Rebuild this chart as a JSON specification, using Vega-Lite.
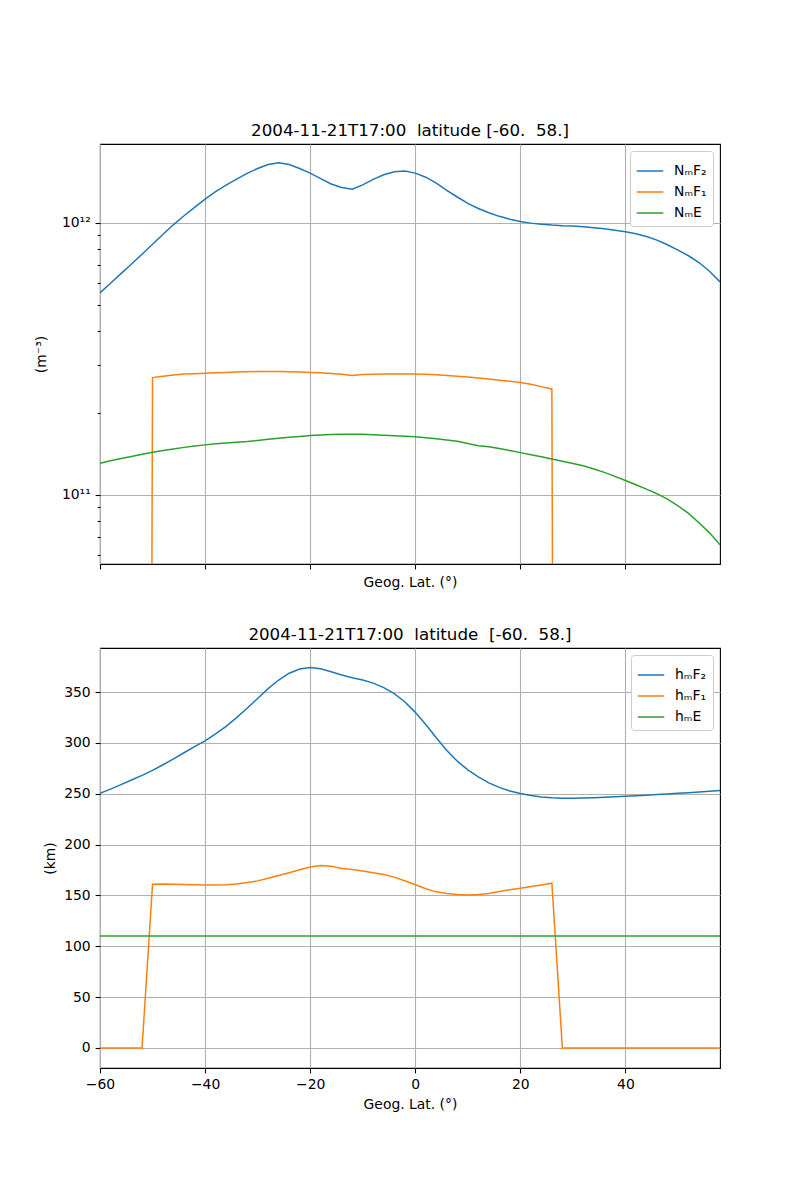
{
  "$schema": "https://vega.github.io/schema/vega-lite/v6.json",
  "padding": {"left": 33, "top": 122, "right": 5, "bottom": 5},
  "spacing": 36,
  "datasets": {
    "N": [
      {"lat": -60, "NmF2": 5.53e11, "NmF1": 1, "NmE": 1.308e11},
      {"lat": -58, "NmF2": 6.00e11, "NmF1": 1, "NmE": 1.335e11},
      {"lat": -56, "NmF2": 6.51e11, "NmF1": 1, "NmE": 1.36e11},
      {"lat": -54, "NmF2": 7.06e11, "NmF1": 1, "NmE": 1.385e11},
      {"lat": -52, "NmF2": 7.67e11, "NmF1": 1, "NmE": 1.41e11},
      {"lat": -50, "NmF2": 8.34e11, "NmF1": 2.70e11, "NmE": 1.435e11},
      {"lat": -48, "NmF2": 9.08e11, "NmF1": 2.73e11, "NmE": 1.455e11},
      {"lat": -46, "NmF2": 9.86e11, "NmF1": 2.76e11, "NmE": 1.475e11},
      {"lat": -44, "NmF2": 1.062e12, "NmF1": 2.78e11, "NmE": 1.495e11},
      {"lat": -42, "NmF2": 1.140e12, "NmF1": 2.79e11, "NmE": 1.512e11},
      {"lat": -40, "NmF2": 1.222e12, "NmF1": 2.80e11, "NmE": 1.527e11},
      {"lat": -38, "NmF2": 1.303e12, "NmF1": 2.81e11, "NmE": 1.54e11},
      {"lat": -36, "NmF2": 1.377e12, "NmF1": 2.82e11, "NmE": 1.55e11},
      {"lat": -34, "NmF2": 1.449e12, "NmF1": 2.83e11, "NmE": 1.56e11},
      {"lat": -32, "NmF2": 1.521e12, "NmF1": 2.835e11, "NmE": 1.57e11},
      {"lat": -30, "NmF2": 1.585e12, "NmF1": 2.84e11, "NmE": 1.585e11},
      {"lat": -28, "NmF2": 1.640e12, "NmF1": 2.84e11, "NmE": 1.60e11},
      {"lat": -26, "NmF2": 1.665e12, "NmF1": 2.84e11, "NmE": 1.615e11},
      {"lat": -24, "NmF2": 1.640e12, "NmF1": 2.835e11, "NmE": 1.628e11},
      {"lat": -22, "NmF2": 1.585e12, "NmF1": 2.83e11, "NmE": 1.64e11},
      {"lat": -20, "NmF2": 1.524e12, "NmF1": 2.82e11, "NmE": 1.652e11},
      {"lat": -18, "NmF2": 1.455e12, "NmF1": 2.81e11, "NmE": 1.66e11},
      {"lat": -16, "NmF2": 1.390e12, "NmF1": 2.795e11, "NmE": 1.666e11},
      {"lat": -14, "NmF2": 1.349e12, "NmF1": 2.775e11, "NmE": 1.67e11},
      {"lat": -12, "NmF2": 1.330e12, "NmF1": 2.746e11, "NmE": 1.672e11},
      {"lat": -10, "NmF2": 1.380e12, "NmF1": 2.77e11, "NmE": 1.67e11},
      {"lat": -8, "NmF2": 1.445e12, "NmF1": 2.775e11, "NmE": 1.665e11},
      {"lat": -6, "NmF2": 1.503e12, "NmF1": 2.78e11, "NmE": 1.658e11},
      {"lat": -4, "NmF2": 1.542e12, "NmF1": 2.785e11, "NmE": 1.65e11},
      {"lat": -2, "NmF2": 1.552e12, "NmF1": 2.785e11, "NmE": 1.642e11},
      {"lat": 0, "NmF2": 1.524e12, "NmF1": 2.78e11, "NmE": 1.634e11},
      {"lat": 2, "NmF2": 1.472e12, "NmF1": 2.775e11, "NmE": 1.622e11},
      {"lat": 4, "NmF2": 1.400e12, "NmF1": 2.765e11, "NmE": 1.608e11},
      {"lat": 6, "NmF2": 1.318e12, "NmF1": 2.75e11, "NmE": 1.592e11},
      {"lat": 8, "NmF2": 1.245e12, "NmF1": 2.73e11, "NmE": 1.575e11},
      {"lat": 10, "NmF2": 1.180e12, "NmF1": 2.71e11, "NmE": 1.545e11},
      {"lat": 12, "NmF2": 1.130e12, "NmF1": 2.69e11, "NmE": 1.515e11},
      {"lat": 14, "NmF2": 1.090e12, "NmF1": 2.665e11, "NmE": 1.503e11},
      {"lat": 16, "NmF2": 1.057e12, "NmF1": 2.64e11, "NmE": 1.48e11},
      {"lat": 18, "NmF2": 1.031e12, "NmF1": 2.615e11, "NmE": 1.455e11},
      {"lat": 20, "NmF2": 1.012e12, "NmF1": 2.59e11, "NmE": 1.43e11},
      {"lat": 22, "NmF2": 9.98e11, "NmF1": 2.55e11, "NmE": 1.405e11},
      {"lat": 24, "NmF2": 9.89e11, "NmF1": 2.50e11, "NmE": 1.38e11},
      {"lat": 26, "NmF2": 9.82e11, "NmF1": 2.447e11, "NmE": 1.356e11},
      {"lat": 28, "NmF2": 9.77e11, "NmF1": 1, "NmE": 1.33e11},
      {"lat": 30, "NmF2": 9.74e11, "NmF1": 1, "NmE": 1.305e11},
      {"lat": 32, "NmF2": 9.68e11, "NmF1": 1, "NmE": 1.28e11},
      {"lat": 34, "NmF2": 9.60e11, "NmF1": 1, "NmE": 1.245e11},
      {"lat": 36, "NmF2": 9.51e11, "NmF1": 1, "NmE": 1.21e11},
      {"lat": 38, "NmF2": 9.40e11, "NmF1": 1, "NmE": 1.17e11},
      {"lat": 40, "NmF2": 9.28e11, "NmF1": 1, "NmE": 1.129e11},
      {"lat": 42, "NmF2": 9.12e11, "NmF1": 1, "NmE": 1.09e11},
      {"lat": 44, "NmF2": 8.91e11, "NmF1": 1, "NmE": 1.05e11},
      {"lat": 46, "NmF2": 8.64e11, "NmF1": 1, "NmE": 1.01e11},
      {"lat": 48, "NmF2": 8.31e11, "NmF1": 1, "NmE": 9.65e10},
      {"lat": 50, "NmF2": 7.94e11, "NmF1": 1, "NmE": 9.12e10},
      {"lat": 52, "NmF2": 7.57e11, "NmF1": 1, "NmE": 8.55e10},
      {"lat": 54, "NmF2": 7.15e11, "NmF1": 1, "NmE": 7.9e10},
      {"lat": 56, "NmF2": 6.64e11, "NmF1": 1, "NmE": 7.25e10},
      {"lat": 58, "NmF2": 6.07e11, "NmF1": 1, "NmE": 6.55e10}
    ],
    "H": [
      {"lat": -60, "hmF2": 250.5, "hmF1": 0, "hmE": 110},
      {"lat": -58, "hmF2": 254.5, "hmF1": 0, "hmE": 110},
      {"lat": -56, "hmF2": 259, "hmF1": 0, "hmE": 110},
      {"lat": -54, "hmF2": 263.5, "hmF1": 0, "hmE": 110},
      {"lat": -52, "hmF2": 268, "hmF1": 0, "hmE": 110},
      {"lat": -50, "hmF2": 273, "hmF1": 161, "hmE": 110},
      {"lat": -48, "hmF2": 278.5, "hmF1": 161.2, "hmE": 110},
      {"lat": -46, "hmF2": 284.3, "hmF1": 161, "hmE": 110},
      {"lat": -44, "hmF2": 290.3, "hmF1": 160.7, "hmE": 110},
      {"lat": -42, "hmF2": 296.3, "hmF1": 160.5, "hmE": 110},
      {"lat": -40, "hmF2": 302, "hmF1": 160.3, "hmE": 110},
      {"lat": -38, "hmF2": 308.8, "hmF1": 160.3, "hmE": 110},
      {"lat": -36, "hmF2": 316.3, "hmF1": 160.6, "hmE": 110},
      {"lat": -34, "hmF2": 324.8, "hmF1": 161.3, "hmE": 110},
      {"lat": -32, "hmF2": 334, "hmF1": 162.6, "hmE": 110},
      {"lat": -30, "hmF2": 343.7, "hmF1": 164.3, "hmE": 110},
      {"lat": -28, "hmF2": 353.3, "hmF1": 166.8, "hmE": 110},
      {"lat": -26, "hmF2": 361.8, "hmF1": 169.5, "hmE": 110},
      {"lat": -24, "hmF2": 368.5, "hmF1": 172.3, "hmE": 110},
      {"lat": -22, "hmF2": 372.6, "hmF1": 175.2, "hmE": 110},
      {"lat": -20, "hmF2": 374, "hmF1": 178, "hmE": 110},
      {"lat": -18, "hmF2": 372.8, "hmF1": 179.5, "hmE": 110},
      {"lat": -16, "hmF2": 370, "hmF1": 178.8, "hmE": 110},
      {"lat": -14, "hmF2": 366.7, "hmF1": 176.5, "hmE": 110},
      {"lat": -12, "hmF2": 364, "hmF1": 175.5, "hmE": 110},
      {"lat": -10, "hmF2": 361.8, "hmF1": 174, "hmE": 110},
      {"lat": -8, "hmF2": 358.8, "hmF1": 172.3, "hmE": 110},
      {"lat": -6, "hmF2": 354.3, "hmF1": 170.5, "hmE": 110},
      {"lat": -4, "hmF2": 348.5, "hmF1": 168, "hmE": 110},
      {"lat": -2, "hmF2": 340.5, "hmF1": 164.5, "hmE": 110},
      {"lat": 0, "hmF2": 330, "hmF1": 160.5, "hmE": 110},
      {"lat": 2, "hmF2": 318, "hmF1": 156.5, "hmE": 110},
      {"lat": 4, "hmF2": 305, "hmF1": 153.5, "hmE": 110},
      {"lat": 6, "hmF2": 292.5, "hmF1": 151.8, "hmE": 110},
      {"lat": 8, "hmF2": 282, "hmF1": 150.8, "hmE": 110},
      {"lat": 10, "hmF2": 273.5, "hmF1": 150.5, "hmE": 110},
      {"lat": 12, "hmF2": 266.5, "hmF1": 150.8, "hmE": 110},
      {"lat": 14, "hmF2": 260.7, "hmF1": 152, "hmE": 110},
      {"lat": 16, "hmF2": 256.2, "hmF1": 153.8, "hmE": 110},
      {"lat": 18, "hmF2": 252.7, "hmF1": 155.5, "hmE": 110},
      {"lat": 20, "hmF2": 250.2, "hmF1": 157, "hmE": 110},
      {"lat": 22, "hmF2": 248.3, "hmF1": 158.7, "hmE": 110},
      {"lat": 24, "hmF2": 246.9, "hmF1": 160.3, "hmE": 110},
      {"lat": 26, "hmF2": 246, "hmF1": 162, "hmE": 110},
      {"lat": 28, "hmF2": 245.6, "hmF1": 0, "hmE": 110},
      {"lat": 30, "hmF2": 245.5, "hmF1": 0, "hmE": 110},
      {"lat": 32, "hmF2": 245.7, "hmF1": 0, "hmE": 110},
      {"lat": 34, "hmF2": 246.1, "hmF1": 0, "hmE": 110},
      {"lat": 36, "hmF2": 246.6, "hmF1": 0, "hmE": 110},
      {"lat": 38, "hmF2": 247.1, "hmF1": 0, "hmE": 110},
      {"lat": 40, "hmF2": 247.6, "hmF1": 0, "hmE": 110},
      {"lat": 42, "hmF2": 248.1, "hmF1": 0, "hmE": 110},
      {"lat": 44, "hmF2": 248.6, "hmF1": 0, "hmE": 110},
      {"lat": 46, "hmF2": 249.2, "hmF1": 0, "hmE": 110},
      {"lat": 48, "hmF2": 249.8, "hmF1": 0, "hmE": 110},
      {"lat": 50, "hmF2": 250.4, "hmF1": 0, "hmE": 110},
      {"lat": 52, "hmF2": 251, "hmF1": 0, "hmE": 110},
      {"lat": 54, "hmF2": 251.7, "hmF1": 0, "hmE": 110},
      {"lat": 56, "hmF2": 252.4, "hmF1": 0, "hmE": 110},
      {"lat": 58, "hmF2": 253.2, "hmF1": 0, "hmE": 110}
    ]
  },
  "resolve": {"scale": {"color": "independent"}, "legend": {"color": "independent"}},
  "vconcat": [
    {
      "title": {"text": "2004-11-21T17:00\u00a0\u00a0latitude [-60.\u00a0\u00a058.]"},
      "width": 620,
      "height": 420,
      "data": {"name": "N"},
      "transform": [{"fold": ["NmF2", "NmF1", "NmE"], "as": ["series", "value"]}],
      "mark": {"type": "line", "clip": true, "strokeWidth": 1.5},
      "encoding": {
        "x": {
          "field": "lat", "type": "quantitative",
          "scale": {"domain": [-60, 58], "nice": false, "zero": false},
          "axis": {"values": [-60, -40, -20, 0, 20, 40], "labels": false, "title": "Geog. Lat. (°)"}
        },
        "y": {
          "field": "value", "type": "quantitative",
          "scale": {"type": "log", "domain": [5.57e10, 1.95e12], "nice": false},
          "axis": {
            "values": [6e10, 7e10, 8e10, 9e10, 1e11, 2e11, 3e11, 4e11, 5e11, 6e11, 7e11, 8e11, 9e11, 1e12],
            "labelExpr": "datum.value == 1e12 ? '10¹²' : (datum.value == 1e11 ? '10¹¹' : '')",
            "tickSize": {"condition": {"test": "datum.value == 1e11 || datum.value == 1e12", "value": 4.9}, "value": 2.8},
            "gridOpacity": {"condition": {"test": "datum.value == 1e11 || datum.value == 1e12", "value": 1}, "value": 0},
            "title": "(m⁻³)",
            "titlePadding": 13
          }
        },
        "color": {
          "field": "series", "type": "nominal",
          "scale": {"domain": ["NmF2", "NmF1", "NmE"], "range": ["#1f77b4", "#ff7f0e", "#2ca02c"]},
          "legend": {"labelExpr": "datum.value == 'NmF2' ? 'NₘF₂' : (datum.value == 'NmF1' ? 'NₘF₁' : 'NₘE')"}
        }
      }
    },
    {
      "title": {"text": "2004-11-21T17:00\u00a0\u00a0latitude\u00a0\u00a0[-60.\u00a0\u00a058.]"},
      "width": 620,
      "height": 420,
      "data": {"name": "H"},
      "transform": [{"fold": ["hmF2", "hmF1", "hmE"], "as": ["series", "value"]}],
      "mark": {"type": "line", "clip": true, "strokeWidth": 1.5},
      "encoding": {
        "x": {
          "field": "lat", "type": "quantitative",
          "scale": {"domain": [-60, 58], "nice": false, "zero": false},
          "axis": {"values": [-60, -40, -20, 0, 20, 40], "title": "Geog. Lat. (°)"}
        },
        "y": {
          "field": "value", "type": "quantitative",
          "scale": {"domain": [-19.7, 393.3], "nice": false, "zero": false},
          "axis": {"values": [0, 50, 100, 150, 200, 250, 300, 350], "title": "(km)", "titlePadding": 6}
        },
        "color": {
          "field": "series", "type": "nominal",
          "scale": {"domain": ["hmF2", "hmF1", "hmE"], "range": ["#1f77b4", "#ff7f0e", "#2ca02c"]},
          "legend": {"labelExpr": "datum.value == 'hmF2' ? 'hₘF₂' : (datum.value == 'hmF1' ? 'hₘF₁' : 'hₘE')"}
        }
      }
    }
  ],
  "config": {
    "font": "DejaVu Sans",
    "view": {"stroke": "#000000", "strokeWidth": 1.1},
    "title": {"fontSize": 16.7, "fontWeight": "normal", "color": "#000000", "offset": 4, "anchor": "middle"},
    "axis": {
      "domain": false,
      "grid": true,
      "gridColor": "#b0b0b0",
      "gridWidth": 1.1,
      "tickColor": "#000000",
      "tickWidth": 1.1,
      "tickSize": 4.9,
      "labelPadding": 4.9,
      "labelFontSize": 13.9,
      "labelColor": "#000000",
      "titleFontSize": 13.9,
      "titleFontWeight": "normal",
      "titleColor": "#000000",
      "titlePadding": 5.6,
      "labelFlush": false
    },
    "legend": {
      "orient": "top-right",
      "offset": 7,
      "title": null,
      "fillColor": "#ffffff",
      "strokeColor": "#cccccc",
      "cornerRadius": 3,
      "padding": 6,
      "symbolType": "stroke",
      "symbolStrokeWidth": 1.5,
      "symbolSize": 700,
      "labelFontSize": 13.9,
      "labelColor": "#000000",
      "labelOffset": 10,
      "rowPadding": 0
    }
  }
}
